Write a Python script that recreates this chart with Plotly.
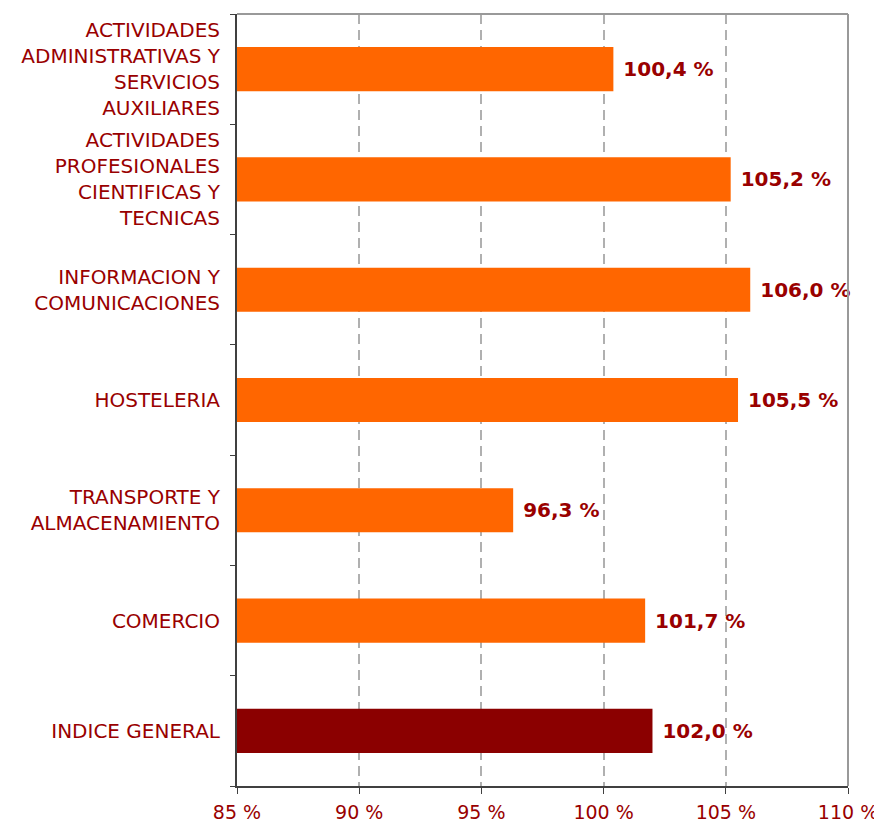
import plotly.graph_objects as go

categories = [
    "INDICE GENERAL",
    "COMERCIO",
    "TRANSPORTE Y<br>ALMACENAMIENTO",
    "HOSTELERIA",
    "INFORMACION Y<br>COMUNICACIONES",
    "ACTIVIDADES<br>PROFESIONALES<br>CIENTIFICAS Y<br>TECNICAS",
    "ACTIVIDADES<br>ADMINISTRATIVAS Y<br>SERVICIOS<br>AUXILIARES",
]
values = [102.0, 101.7, 96.3, 105.5, 106.0, 105.2, 100.4]
bar_colors = ["#8B0000"] + ["#FF6600"] * 6
x_ticks = [85, 90, 95, 100, 105, 110]
x_tick_text = [f"{v} %" for v in x_ticks]

text_red = "#990000"

fig = go.Figure(
    go.Bar(
        y=categories,
        x=values,
        orientation="h",
        marker=dict(color=bar_colors, line=dict(width=0)),
        texttemplate="\u00a0%{x:.1f} %",
        textposition="outside",
        textfont=dict(family="DejaVu Sans", size=20, color=text_red, weight="bold"),
        constraintext="none",
        cliponaxis=False,
        width=0.4,
    )
)

fig.update_layout(
    width=882,
    height=825,
    margin=dict(l=229, r=42, t=6, b=47),
    plot_bgcolor="white",
    paper_bgcolor="white",
    separators=",.",
    showlegend=False,
    font=dict(family="DejaVu Sans", size=20, color=text_red),
    xaxis=dict(
        range=[85, 110],
        tickvals=x_ticks,
        ticktext=x_tick_text,
        tickfont=dict(size=19),
        showgrid=True,
        gridcolor="#b0b0b0",
        griddash="10px,6px",
        gridwidth=1.5,
        showline=True,
        linecolor="#404040",
        linewidth=2,
        ticks="outside",
        ticklen=6,
        tickcolor="#404040",
        ticklabelstandoff=2,
        zeroline=False,
    ),
    yaxis=dict(
        type="category",
        categoryorder="array",
        categoryarray=categories,
        tickson="boundaries",
        ticks="outside",
        ticklen=5,
        tickcolor="#404040",
        showline=True,
        linecolor="#404040",
        linewidth=2,
        showgrid=False,
        ticklabelstandoff=11,
    ),
    shapes=[
        dict(type="line", xref="paper", yref="paper", x0=0, x1=1, y0=1, y1=1,
             line=dict(color="#999999", width=2)),
        dict(type="line", xref="paper", yref="paper", x0=1, x1=1, y0=0, y1=1,
             line=dict(color="#999999", width=2)),
    ],
)

fig.write_html("out.html")
